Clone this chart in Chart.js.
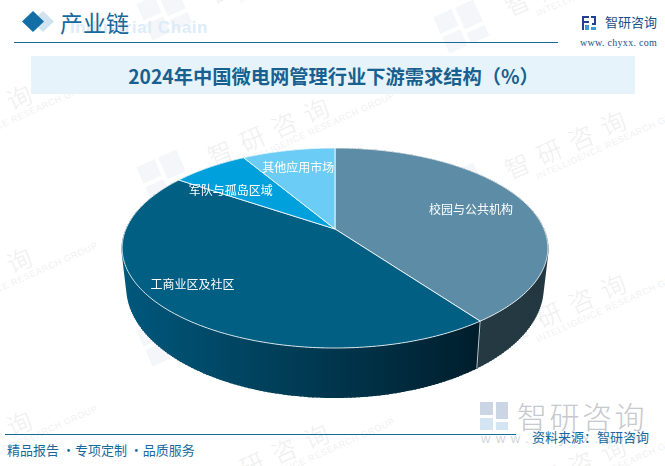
<!DOCTYPE html>
<html>
<head>
<meta charset="utf-8">
<script src="https://cdn.jsdelivr.net/npm/chart.js@4/dist/chart.umd.min.js"></script>
<style>
  html, body { margin: 0; padding: 0; background: #fff; }
  #page { position: relative; width: 665px; height: 466px; overflow: hidden; font-family: "Noto Sans CJK SC", sans-serif; }
  #page div { position: absolute; white-space: nowrap; }
  canvas { position: absolute; left: 0; top: 0; }
  .wm { width: 0; height: 0; transform: rotate(-24deg); transform-origin: 0 0; }
  #page .wm .cn { left: -118px; top: -18px; color: #efefef; font-size: 25px; line-height: 36px; letter-spacing: 10px; font-weight: 300; }
  #page .wm .en { left: -92px; top: 13px; color: #f1f1f1; font: 9px "Liberation Sans"; line-height: 12px; letter-spacing: .6px; }
  #page .wm svg { position: absolute; left: -188px; top: -20px; }
</style>
</head>
<body>
<div id="page">
  <div id="marks"></div>

  <svg style="position:absolute;left:0;top:0" width="665" height="466">
    <polygon points="43,11 54,21.5 43,32 32,21.5" fill="#cfe3f0"/>
    <polygon points="33,11 44,21.5 33,32 22,21.5" fill="#146ea6"/>
    <path d="M582 16h7v2h-5v3h5v-1h0v3h-5v7h-2z" fill="#23408e"/>
    <path d="M591 16h5v9h-4v-2h2v-5h-3z" fill="#23408e"/>
    <rect x="591" y="27" width="5" height="3" fill="#3f9bd8"/><rect x="585" y="25" width="4" height="5" fill="#3f9bd8"/>
    <rect x="480" y="402" width="13" height="13" fill="#ccd5e4"/><rect x="496" y="402" width="12" height="17" fill="#ccd5e4"/>
    <rect x="480" y="418" width="13" height="12" fill="#d3e4f3"/><rect x="496" y="422" width="12" height="8" fill="#d3e4f3"/>
    <rect x="14" y="42" width="544" height="1" fill="#17699c"/>
    <rect x="5" y="434" width="511" height="1" fill="#17699c"/>
    <rect x="31" y="56" width="604" height="38" fill="#e6f3fb"/>
  </svg>

  <div style="left:70px;top:18px;color:#dcecf8;font:bold 17px 'Liberation Sans';letter-spacing:.6px;">Industrial Chain</div>
  <div style="left:60px;top:6px;color:#17699c;font-size:23px;line-height:32px;">产业链</div>
  <div style="left:605px;top:13px;color:#1c4f86;font-size:13px;line-height:18px;">智研咨询</div>
  <div style="left:580px;top:36px;color:#1c4f86;font:10px 'Liberation Serif';line-height:14px;letter-spacing:.3px;">www. chyxx. com</div>
  <div style="left:0;width:665px;top:62px;text-align:center;color:#17608f;font-size:19.25px;font-weight:700;line-height:28px;text-indent:2px;">2024年中国微电网管理行业下游需求结构（%）</div>
  <div style="left:517px;top:393px;color:#c6c9cd;font-size:30px;font-weight:300;line-height:44px;letter-spacing:2.5px;">智研咨询</div>
  <div style="left:481px;top:431px;color:#d2d5d9;font:13px 'Liberation Sans';letter-spacing:5.5px;line-height:16px;">www.chyxx.com</div>
  <div style="left:532px;top:428px;color:#17699c;font-size:13px;line-height:18px;">资料来源：智研咨询</div>
  <div style="left:7px;top:441px;color:#17699c;font-size:13px;line-height:18px;">精品报告 ·专项定制 ·品质服务</div>

  <canvas id="pie" width="665" height="466"></canvas>
</div>

<script>
// chart data
const categories = ['校园与公共机构', '工商业区及社区', '军队与孤岛区域', '其他应用市场'];
const shares = [40, 44.5, 7, 8.5];
const topColors = ['#5d8ca6', '#005f83', '#00a0dc', '#6bcdf5'];
const wallLeft = ['#2a414c', '#00587c', '#0089bd', '#57b5dc'];
const wallRight = ['#22373f', '#001e2c', '#0089bd', '#57b5dc'];

// where each label sits in its slice: fraction of radius, degrees away from the middle of the slice
const labelRadius = [0.71, 0.806, 0.696, 0.759];
const labelTurn = [0.4, 5.5, -7.8, 0];

// fake 3D: tilt the flat pie into the look of the original
const tilt = 0.19;       // perspective strength
const flatten = 96.4;    // height of the pie's radius at the apex
const midY = 248;        // y where the top ellipse is widest
const rimMidY = 288;     // same for the lower rim
const rimScaleX = 0.977;
const rimScaleY = 1.1;

function project(arc, a) {
    const x = Math.cos(a), z = Math.sin(a);
    const w = 1 - tilt * z;
    return { x: arc.x + arc.outerRadius * x / w, y: arc.y + flatten * z / w };
}

function lower(p, cx) {
    return { x: cx + (p.x - cx) * rimScaleX, y: rimMidY + (p.y - midY) * rimScaleY };
}

function rimPoints(arc) {
    const pts = [];
    const n = Math.max(8, Math.ceil((arc.endAngle - arc.startAngle) * 60));
    for (let i = 0; i <= n; i++) {
        pts.push(project(arc, arc.startAngle + (arc.endAngle - arc.startAngle) * i / n));
    }
    return pts;
}

const pie3d = {
    id: 'pie3d',
    beforeDatasetsDraw(chart) {
        const ctx = chart.ctx;
        const arcs = chart.getDatasetMeta(0).data;
        const cx = arcs[0].x;

        // walls first, the top face covers the back half
        arcs.forEach((arc, i) => {
            const top = rimPoints(arc);
            const bottom = top.map(p => lower(p, cx));
            const xs = top.map(p => p.x);
            const g = ctx.createLinearGradient(Math.min(...xs), 0, Math.max(...xs), 0);
            g.addColorStop(0, wallLeft[i]);
            g.addColorStop(1, wallRight[i]);
            ctx.beginPath();
            top.forEach((p, k) => k ? ctx.lineTo(p.x, p.y) : ctx.moveTo(p.x, p.y));
            bottom.slice().reverse().forEach(p => ctx.lineTo(p.x, p.y));
            ctx.closePath();
            ctx.fillStyle = g;
            ctx.fill();
            // rims cross at the sides, these strokes fill the notch they leave
            ctx.beginPath();
            top.forEach((p, k) => {
                ctx.moveTo(p.x, p.y);
                ctx.lineTo(bottom[k].x, bottom[k].y);
            });
            ctx.strokeStyle = g;
            ctx.lineWidth = 1.5;
            ctx.stroke();
        });

        // seam on the front wall
        const seamTop = project(arcs[0], arcs[0].endAngle);
        const seamEnd = lower(seamTop, cx);
        ctx.beginPath();
        ctx.moveTo(seamTop.x, seamTop.y);
        ctx.lineTo(seamEnd.x, seamEnd.y);
        ctx.strokeStyle = 'rgba(255,255,255,0.75)';
        ctx.lineWidth = 1;
        ctx.stroke();

        // top face
        arcs.forEach((arc, i) => {
            ctx.beginPath();
            ctx.moveTo(arc.x, arc.y);
            rimPoints(arc).forEach(p => ctx.lineTo(p.x, p.y));
            ctx.closePath();
            ctx.fillStyle = topColors[i];
            ctx.fill();
            ctx.strokeStyle = 'rgba(255,255,255,0.8)';
            ctx.lineWidth = 1;
            ctx.stroke();
        });

        // labels
        ctx.fillStyle = '#fff';
        ctx.font = '12px "Noto Sans CJK SC"';
        ctx.textAlign = 'center';
        ctx.textBaseline = 'middle';
        arcs.forEach((arc, i) => {
            const a = (arc.startAngle + arc.endAngle) / 2 + labelTurn[i] * Math.PI / 180;
            const c = Math.cos(a) * labelRadius[i], z = Math.sin(a) * labelRadius[i];
            const w = 1 - tilt * z;
            ctx.fillText(categories[i], arc.x + arc.outerRadius * c / w, arc.y + flatten * z / w);
        });
        return false;
    }
};

new Chart(document.getElementById('pie'), {
    type: 'pie',
    data: {
        labels: categories,
        datasets: [{ data: shares, backgroundColor: topColors }]
    },
    options: {
        responsive: false,
        animation: false,
        events: [],
        layout: { padding: { left: 125, right: 120, top: 19, bottom: 27 } },
        plugins: { legend: { display: false }, tooltip: { enabled: false } }
    },
    plugins: [pie3d]
});

// faint watermarks behind everything, anchored on the last character
const markColumns = [[613, -41], [316, -54], [19, -67]];
const marks = document.getElementById('marks');
markColumns.forEach(col => {
    for (let row = 0; row < 4; row++) {
        const d = document.createElement('div');
        d.className = 'wm';
        d.style.left = col[0] + 'px';
        d.style.top = col[1] + row * 163 + 'px';
        d.innerHTML = '<svg width="44" height="40" fill="#f4f6f9"><rect width="20" height="18"/><rect x="24" width="20" height="24"/><rect y="22" width="20" height="18"/><rect x="24" y="28" width="20" height="12"/></svg>' +
            '<div class="cn">智研咨询</div><div class="en">INTELLIGENCE RESEARCH GROUP</div>';
        marks.appendChild(d);
    }
});
</script>
</body>
</html>
